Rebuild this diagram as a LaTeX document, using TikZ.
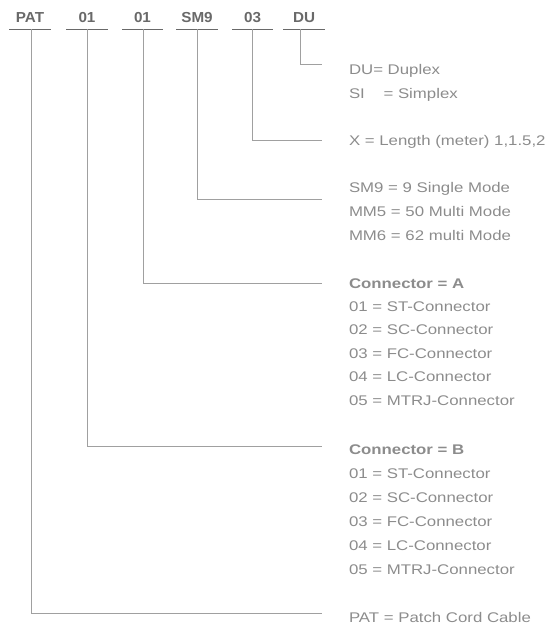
\documentclass[tikz,border=0pt]{standalone}
\usepackage{fontspec}
\newfontfamily\descfont[FakeStretch=1.2]{Liberation Sans}
\newfontfamily\tagfont[FakeStretch=1.05]{Liberation Sans}
\definecolor{custcol_69_69_69}{RGB}{105, 105, 105}
\definecolor{custcol_8c_8c_8c}{RGB}{140, 140, 140}
\definecolor{custcol_a0_a0_a0}{RGB}{160, 160, 160}
\begin{document}
\begin{tikzpicture}[x=1pt,y=-1pt,line cap=rect,
	tag/.style={inner sep=0, outer sep=0, minimum width=40pt, text depth=7.3pt, anchor=base, custcol_69_69_69, font=\tagfont\bfseries\fontsize{14.5pt}{14.5pt}\selectfont},
	desc/.style={inner sep=0, outer sep=0, anchor=base west, custcol_8c_8c_8c, font=\descfont\fontsize{14pt}{14pt}\selectfont},
	bar/.style={line width=1.2pt, custcol_69_69_69},
	lead/.style={line width=1.0pt, custcol_a0_a0_a0}]
	\useasboundingbox (0,0) rectangle (554,624);
	% code fields
	\node[tag] (pat) at (30.0,22.5) {PAT};
	\node[tag] (conb) at (87.0,22.5) {01};
	\node[tag] (cona) at (142.5,22.5) {01};
	\node[tag] (mode) at (197.0,22.5) {SM9};
	\node[tag] (len) at (252.5,22.5) {03};
	\node[tag] (dup) at (304.0,22.5) {DU};
	\foreach \n in {pat,conb,cona,mode,len,dup}
		\draw[bar] (\n.south west) -- (\n.south east);
	% line ends
	\coordinate (edup) at (321.0,64.0);
	\coordinate (elen) at (321.0,140.0);
	\coordinate (emode) at (321.0,199.0);
	\coordinate (econa) at (321.0,283.0);
	\coordinate (econb) at (321.0,446.5);
	\coordinate (epat) at (321.0,613.0);
	\draw[lead] ([xshift=1pt]pat.south) |- (epat);
	\draw[lead] ([xshift=0.6pt]conb.south) |- (econb);
	\draw[lead] ([xshift=0.5pt]cona.south) |- (econa);
	\draw[lead] (mode.south) |- (emode);
	\draw[lead] ([xshift=-0.5pt]len.south) |- (elen);
	\draw[lead] ([xshift=-4pt]dup.south) |- (edup);
	% descriptions
	\node[desc] (dup1) at (349.0,74.0) {DU= Duplex};
	\node[desc] (dup2) at (349.0,98.0) {SI\hspace{14pt} = Simplex};
	\node[desc] (len1) at (349.0,145.0) {X = Length (meter) 1,1.5,2};
	\node[desc] (mode1) at (349.0,192.5) {SM9 = 9 Single Mode};
	\node[desc] (mode2) at (349.0,216.0) {MM5 = 50 Multi Mode};
	\node[desc] (mode3) at (349.0,240.0) {MM6 = 62 multi Mode};
	\node[desc, font=\descfont\bfseries\fontsize{14pt}{14pt}\selectfont] (cona0) at (349.0,288.0) {Connector = A};
	\node[desc] (cona1) at (349.0,311.0) {01 = ST-Connector};
	\node[desc] (cona2) at (349.0,334.5) {02 = SC-Connector};
	\node[desc] (cona3) at (349.0,358.0) {03 = FC-Connector};
	\node[desc] (cona4) at (349.0,381.5) {04 = LC-Connector};
	\node[desc] (cona5) at (349.0,405.0) {05 = MTRJ-Connector};
	\node[desc, font=\descfont\bfseries\fontsize{14pt}{14pt}\selectfont] (conb0) at (349.0,454.5) {Connector = B};
	\node[desc] (conb1) at (349.0,478.0) {01 = ST-Connector};
	\node[desc] (conb2) at (349.0,502.0) {02 = SC-Connector};
	\node[desc] (conb3) at (349.0,526.0) {03 = FC-Connector};
	\node[desc] (conb4) at (349.0,550.0) {04 = LC-Connector};
	\node[desc] (conb5) at (349.0,574.0) {05 = MTRJ-Connector};
	\node[desc] (pat1) at (349.0,622.0) {PAT = Patch Cord Cable};
\end{tikzpicture}
\end{document}
